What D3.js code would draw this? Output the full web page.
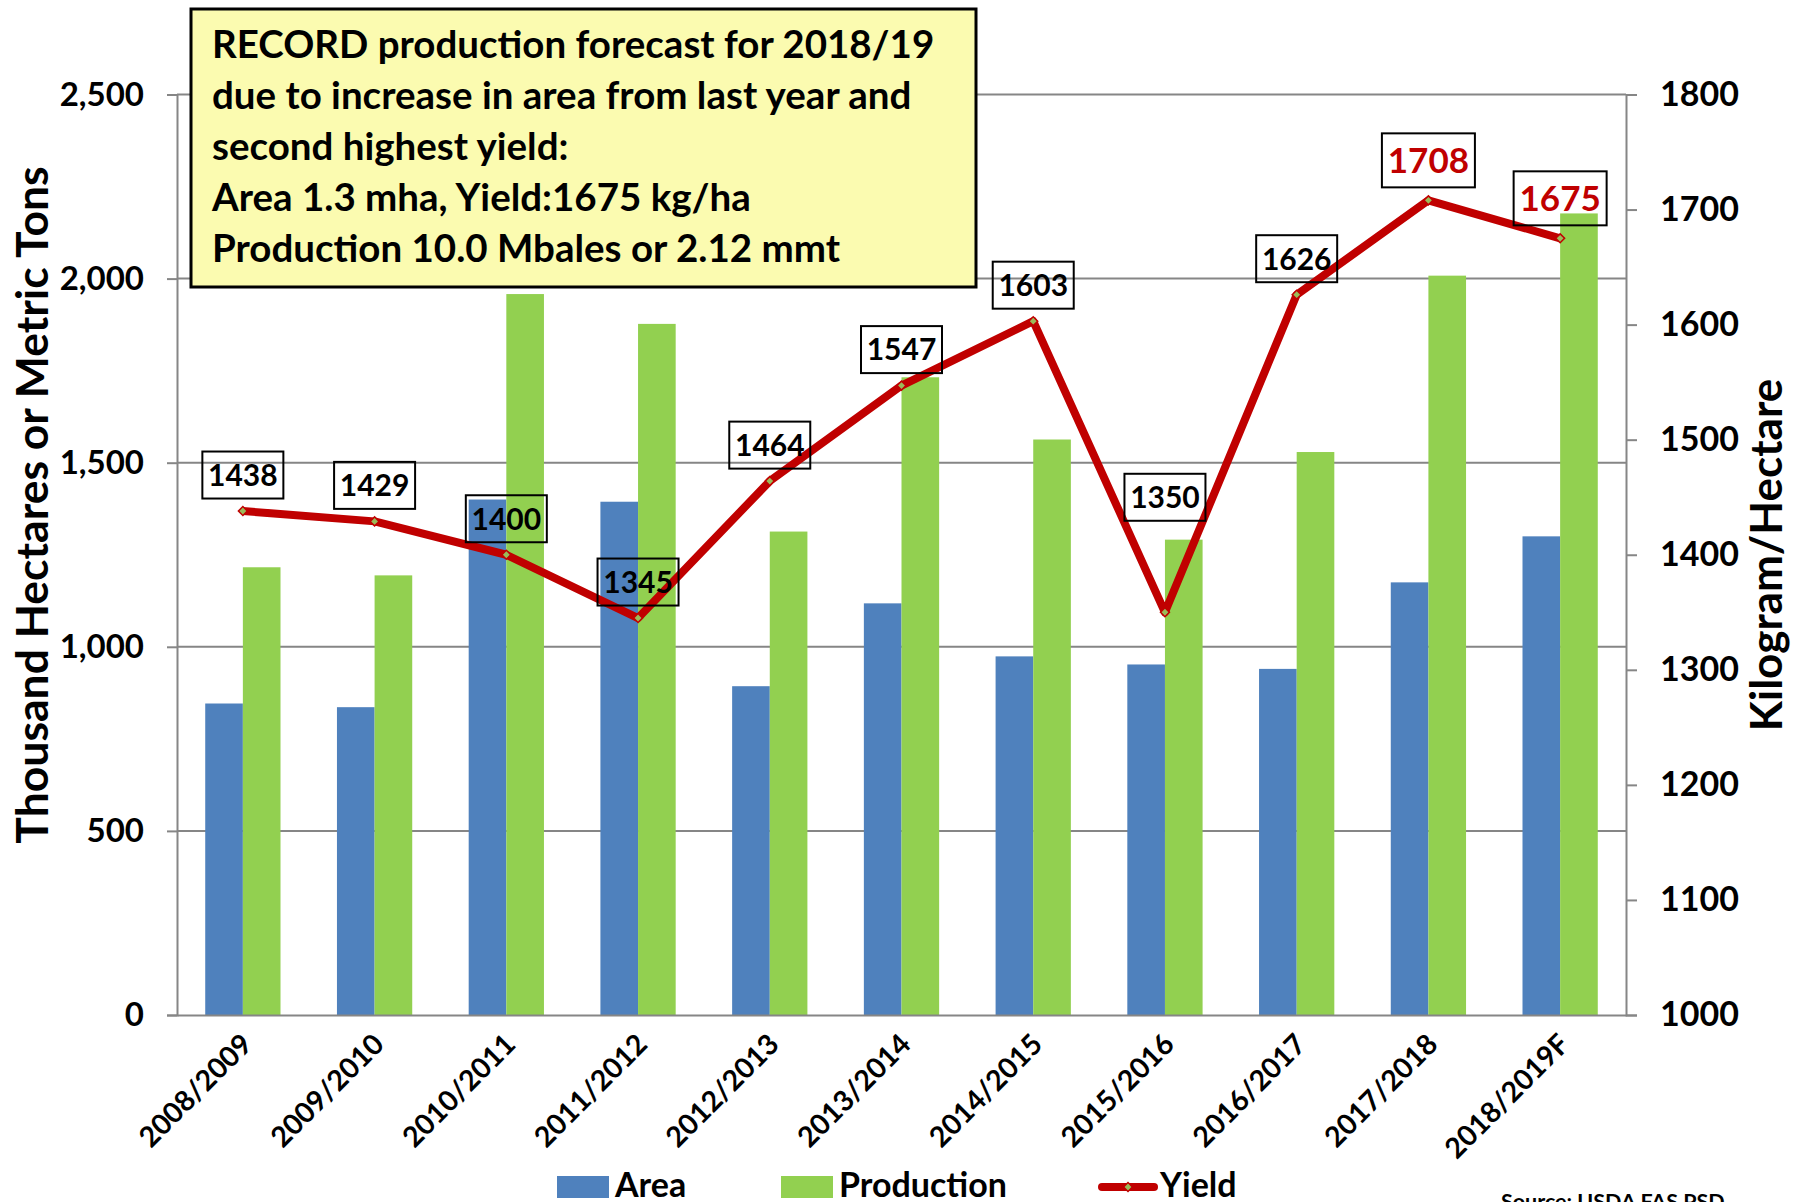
<!DOCTYPE html>
<html>
<head>
<meta charset="utf-8">
<script src="https://cdn.jsdelivr.net/npm/d3@7"></script>
<style>
body { margin: 0; background: #fff; }
svg text { font-family: Lato, "Open Sans", sans-serif; font-weight: bold; }
</style>
</head>
<body>
<svg id="chart"></svg>
<script>
// marketing years
var categories = ["2008/2009", "2009/2010", "2010/2011", "2011/2012", "2012/2013", "2013/2014",
    "2014/2015", "2015/2016", "2016/2017", "2017/2018", "2018/2019F"];
// thousand hectares
var area = [846, 836, 1400, 1394, 893, 1118, 974, 952, 940, 1175, 1300];
// thousand metric tons
var production = [1216, 1194, 1958, 1877, 1313, 1732, 1563, 1291, 1529, 2008, 2177];
// kg / ha
var yieldKg = [1438, 1429, 1400, 1345, 1464, 1547, 1603, 1350, 1626, 1708, 1675];

var leftTicks = [0, 500, 1000, 1500, 2000, 2500];
var rightTicks = [1000, 1100, 1200, 1300, 1400, 1500, 1600, 1700, 1800];

var noteLines = [
    "RECORD production forecast for 2018/19",
    "due to increase in area from last year and",
    "second highest yield:",
    "Area 1.3 mha, Yield:1675 kg/ha",
    "Production 10.0 Mbales or 2.12 mmt"
];

var W = 1808, H = 1202;
var plotL = 177, plotR = 1626, plotT = 94.5, plotB = 1015;
var grey = "#868686";
var blue = "#4F81BD", green = "#92D050", red = "#C00000";

var svg = d3.select("#chart")
    .attr("width", W)
    .attr("height", H);

var x = d3.scaleBand()
    .domain(categories)
    .range([plotL, plotR]);

var bw = x.bandwidth() / 3.5;

var y = d3.scaleLinear()
    .domain([0, 2500])
    .range([plotB, plotT]);

var y2 = d3.scaleLinear()
    .domain([1000, 1800])
    .range([plotB, plotT]);

// gridlines
svg.append("g")
    .selectAll("line")
    .data(leftTicks.slice(1))
    .enter()
    .append("line")
    .attr("x1", plotL)
    .attr("x2", plotR)
    .attr("y1", function (d) { return y(d); })
    .attr("y2", function (d) { return y(d); })
    .attr("stroke", grey)
    .attr("stroke-width", 2);

// bars
var rows = categories.map(function (c, i) {
    return { cat: c, area: area[i], production: production[i], yld: yieldKg[i], i: i };
});

svg.append("g")
    .selectAll("rect")
    .data(rows)
    .enter()
    .append("rect")
    .attr("x", function (d) { return x(d.cat) + x.bandwidth() / 2 - bw; })
    .attr("y", function (d) { return y(d.area); })
    .attr("width", bw)
    .attr("height", function (d) { return y(0) - y(d.area); })
    .attr("fill", blue);

svg.append("g")
    .selectAll("rect")
    .data(rows)
    .enter()
    .append("rect")
    .attr("x", function (d) { return x(d.cat) + x.bandwidth() / 2; })
    .attr("y", function (d) { return y(d.production); })
    .attr("width", bw)
    .attr("height", function (d) { return y(0) - y(d.production); })
    .attr("fill", green);

// axes
function styleAxis(g, size) {
    g.select(".domain").attr("stroke", grey).attr("stroke-width", 2);
    g.selectAll(".tick line").attr("stroke", grey).attr("stroke-width", 2);
    g.selectAll(".tick text").attr("fill", "#000").style("font-size", size + "px");
}

svg.append("g")
    .attr("transform", "translate(" + plotL + ",0)")
    .call(d3.axisLeft(y).tickValues(leftTicks).tickSize(10).tickPadding(23).tickFormat(d3.format(",")))
    .call(function (g) { styleAxis(g, 33); });

svg.append("g")
    .attr("transform", "translate(" + plotR + ",0)")
    .call(d3.axisRight(y2).tickValues(rightTicks).tickSize(11).tickPadding(23).tickFormat(d3.format("d")))
    .call(function (g) { styleAxis(g, 34); });

var xAxis = svg.append("g")
    .attr("transform", "translate(0," + plotB + ")")
    .call(d3.axisBottom(x).tickSize(0).tickSizeOuter(0))
    .call(function (g) { styleAxis(g, 28.5); });

xAxis.selectAll(".tick text")
    .attr("x", 0)
    .attr("y", 0)
    .attr("dy", 0)
    .attr("transform", "translate(11,31) rotate(-45)")
    .style("text-anchor", "end");

// axis titles
svg.append("text")
    .attr("transform", "translate(48,505) rotate(-90)")
    .attr("text-anchor", "middle")
    .style("font-size", "44.5px")
    .text("Thousand Hectares or Metric Tons");

svg.append("text")
    .attr("transform", "translate(1782,555) rotate(-90)")
    .attr("text-anchor", "middle")
    .style("font-size", "44px")
    .text("Kilogram/Hectare");

// yield line
var cx = function (d) { return x(d.cat) + x.bandwidth() / 2; };

svg.append("path")
    .datum(rows)
    .attr("fill", "none")
    .attr("stroke", red)
    .attr("stroke-width", 8)
    .attr("stroke-linejoin", "round")
    .attr("d", d3.line().x(cx).y(function (d) { return y2(d.yld); }));

var diamond = d3.symbol().type(d3.symbolSquare).size(40);

svg.append("g")
    .selectAll("path")
    .data(rows)
    .enter()
    .append("path")
    .attr("d", diamond)
    .attr("transform", function (d) { return "translate(" + cx(d) + "," + y2(d.yld) + ") rotate(45)"; })
    .attr("fill", "#9BBB59")
    .attr("stroke", red)
    .attr("stroke-width", 1.5);

// data labels, the last two are highlighted
var labels = svg.append("g")
    .selectAll("g")
    .data(rows)
    .enter()
    .append("g")
    .attr("transform", function (d) {
        var hi = d.i >= 9;
        var lift = hi ? 40 : 36;
        if (d.cat === "2015/2016") lift = 115;
        return "translate(" + cx(d) + "," + (y2(d.yld) - lift) + ")";
    });

labels.append("rect")
    .attr("x", function (d) { return d.i >= 9 ? -46.5 : -40.5; })
    .attr("y", function (d) { return d.i >= 9 ? -27 : -23.5; })
    .attr("width", function (d) { return d.i >= 9 ? 93 : 81; })
    .attr("height", function (d) { return d.i >= 9 ? 54 : 47; })
    .attr("fill", "none")
    .attr("stroke", "#000")
    .attr("stroke-width", 2);

labels.append("text")
    .attr("text-anchor", "middle")
    .attr("dy", "0.36em")
    .attr("fill", function (d) { return d.i >= 9 ? red : "#000"; })
    .style("font-size", function (d) { return d.i >= 9 ? "35px" : "30px"; })
    .text(function (d) { return d.yld; });

// note box
svg.append("rect")
    .attr("x", 191)
    .attr("y", 9)
    .attr("width", 785)
    .attr("height", 278)
    .attr("fill", "#FBFBB0")
    .attr("stroke", "#000")
    .attr("stroke-width", 3);

svg.append("g")
    .selectAll("text")
    .data(noteLines)
    .enter()
    .append("text")
    .attr("x", 212)
    .attr("y", function (d, i) { return 58 + i * 51; })
    .style("font-size", "38.5px")
    .text(function (d) { return d; });

// legend
var legend = svg.append("g");
legend.append("rect").attr("x", 557).attr("y", 1176).attr("width", 52).attr("height", 22).attr("fill", blue);
legend.append("text").attr("x", 615).attr("y", 1197).style("font-size", "34px").text("Area");
legend.append("rect").attr("x", 781).attr("y", 1176).attr("width", 52).attr("height", 22).attr("fill", green);
legend.append("text").attr("x", 839).attr("y", 1197).style("font-size", "34px").text("Production");
legend.append("line")
    .attr("x1", 1102).attr("x2", 1154)
    .attr("y1", 1187).attr("y2", 1187)
    .attr("stroke", red).attr("stroke-width", 8).attr("stroke-linecap", "round");
legend.append("path")
    .attr("d", diamond)
    .attr("transform", "translate(1128,1187) rotate(45)")
    .attr("fill", "#9BBB59")
    .attr("stroke", red)
    .attr("stroke-width", 1.5);
legend.append("text").attr("x", 1160).attr("y", 1197).style("font-size", "34px").text("Yield");

svg.append("text")
    .attr("x", 1501)
    .attr("y", 1209)
    .style("font-size", "21.5px")
    .text("Source: USDA FAS PSD");
</script>
</body>
</html>
